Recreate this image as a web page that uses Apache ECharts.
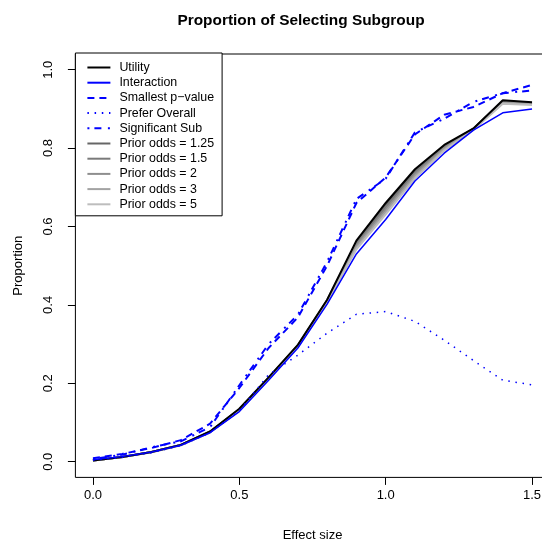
<!DOCTYPE html>
<html>
<head>
<meta charset="utf-8">
<script src="https://cdn.jsdelivr.net/npm/echarts@6/dist/echarts.min.js"></script>
<style>
html,body{margin:0;padding:0;background:#fff;}
#chart{width:542px;height:544px;}
</style>
</head>
<body>
<div id="chart"></div>
<script>
// ---- data ----
var effectSize = [0,0.1,0.2,0.3,0.4,0.5,0.6,0.7,0.8,0.9,1.0,1.1,1.2,1.3,1.4,1.5];
var utility       = [0.003,0.012,0.025,0.043,0.077,0.135,0.215,0.298,0.413,0.564,0.660,0.746,0.808,0.850,0.922,0.917];
var interaction   = [0.005,0.013,0.025,0.042,0.074,0.128,0.208,0.290,0.402,0.530,0.618,0.716,0.787,0.846,0.890,0.900];
var smallestP     = [0.009,0.020,0.035,0.055,0.097,0.188,0.290,0.368,0.500,0.660,0.725,0.835,0.885,0.905,0.940,0.961];
var preferOverall = [0.004,0.011,0.023,0.041,0.074,0.130,0.222,0.272,0.328,0.376,0.383,0.358,0.310,0.258,0.208,0.196];
var significantSub= [0.007,0.018,0.037,0.052,0.088,0.195,0.300,0.375,0.510,0.670,0.722,0.840,0.875,0.918,0.940,0.947];
var prior125 = [0.003,0.012,0.025,0.043,0.077,0.134,0.214,0.297,0.412,0.560,0.655,0.742,0.806,0.850,0.920,0.915];
var prior15  = [0.003,0.012,0.025,0.043,0.076,0.133,0.213,0.296,0.411,0.556,0.649,0.738,0.803,0.849,0.918,0.914];
var prior2   = [0.003,0.012,0.025,0.043,0.076,0.132,0.212,0.295,0.410,0.552,0.643,0.733,0.800,0.849,0.917,0.913];
var prior3   = [0.003,0.012,0.024,0.042,0.075,0.131,0.211,0.294,0.409,0.547,0.637,0.728,0.797,0.848,0.915,0.912];
var prior5   = [0.003,0.012,0.024,0.042,0.075,0.130,0.210,0.293,0.408,0.542,0.631,0.723,0.794,0.847,0.913,0.910];
var xTicks = [0, 0.5, 1.0, 1.5];
var yTicks = [0, 0.2, 0.4, 0.6, 0.8, 1.0];
var seriesNames = ['Utility','Interaction','Smallest p\u2212value','Prefer Overall','Significant Sub',
  'Prior odds = 1.25','Prior odds = 1.5','Prior odds = 2','Prior odds = 3','Prior odds = 5'];

function pairs(ys){ return effectSize.map(function(x,i){ return [x, ys[i]]; }); }

var FONT = '"Liberation Sans", Arial, Helvetica, sans-serif';

function line(name, ys, color, width, type, z){
  return {
    name: name, type: 'line', data: pairs(ys), symbol: 'none', z: z,
    lineStyle: { color: color, width: width, type: type, cap: 'butt' },
    itemStyle: { color: color },
    emphasis: { disabled: true }, silent: true
  };
}

var chart = echarts.init(document.getElementById('chart'), null, {renderer: 'canvas'});
chart.setOption({
  animation: false,
  backgroundColor: '#ffffff',
  textStyle: { fontFamily: FONT },
  graphic: [{
    type: 'text', x: 301, y: 21,
    style: { text: 'Proportion of Selecting Subgroup', font: 'bold 15.4px ' + FONT,
             fill: '#000', align: 'center', verticalAlign: 'middle' }
  }],
  grid: {
    left: 75.4, top: 54, width: 474.2, height: 423.4,
    show: true, borderColor: '#000', borderWidth: 1, backgroundColor: 'transparent',
    containLabel: false, outerBoundsMode: 'none'
  },
  legend: {
    orient: 'vertical', left: 75.4, top: 53,
    padding: [7, 8, 4, 11],
    itemWidth: 23, itemHeight: 15, itemGap: 0.2,
    backgroundColor: '#fff', borderColor: '#000', borderWidth: 1, borderRadius: 0,
    itemStyle: { opacity: 0 },
    textStyle: { fontFamily: FONT, fontSize: 12.4, color: '#000', padding: [0,0,0,4], lineHeight: 15 },
    data: seriesNames, selectedMode: false, z: 10
  },
  xAxis: {
    type: 'value', min: -0.06, max: 1.56,
    name: 'Effect size', nameLocation: 'middle', nameGap: 52,
    nameTextStyle: { fontFamily: FONT, fontSize: 13, color: '#000' },
    axisLine: { show: false, onZero: false },
    splitLine: { show: false },
    axisTick: { show: true, inside: false, length: 7.5, customValues: xTicks, lineStyle: { color: '#000', width: 1 } },
    axisLabel: { show: true, customValues: xTicks, margin: 12, fontSize: 13, color: '#000', fontFamily: FONT,
                 formatter: function(v){ return v.toFixed(1); } }
  },
  yAxis: {
    type: 'value', min: -0.04, max: 1.04,
    name: 'Proportion', nameLocation: 'middle', nameGap: 50, nameRotate: 90,
    nameTextStyle: { fontFamily: FONT, fontSize: 13, color: '#000' },
    axisLine: { show: false, onZero: false },
    splitLine: { show: false },
    axisTick: { show: true, inside: false, length: 7.5, customValues: yTicks, lineStyle: { color: '#000', width: 1 } },
    axisLabel: { show: true, customValues: yTicks, margin: 20, rotate: 90, fontSize: 13, color: '#000', fontFamily: FONT,
                 formatter: function(v){ return v.toFixed(1); } }
  },
  series: [
    line(seriesNames[5], prior125, '#666666', 2, 'solid', 2),
    line(seriesNames[6], prior15,  '#7a7a7a', 2, 'solid', 2),
    line(seriesNames[7], prior2,   '#8e8e8e', 2, 'solid', 2),
    line(seriesNames[8], prior3,   '#a3a3a3', 2, 'solid', 2),
    line(seriesNames[9], prior5,   '#bdbdbd', 2, 'solid', 2),
    line(seriesNames[0], utility,  '#000000', 2, 'solid', 3),
    line(seriesNames[1], interaction, '#0000ff', 1.5, 'solid', 3),
    line(seriesNames[2], smallestP, '#0000ff', 2, [7,5], 3),
    line(seriesNames[3], preferOverall, '#0000ff', 1.5, [1.5,5.7], 3),
    line(seriesNames[4], significantSub, '#0000ff', 2, [2,5,7,6.5], 3)
  ]
});
</script>
</body>
</html>
